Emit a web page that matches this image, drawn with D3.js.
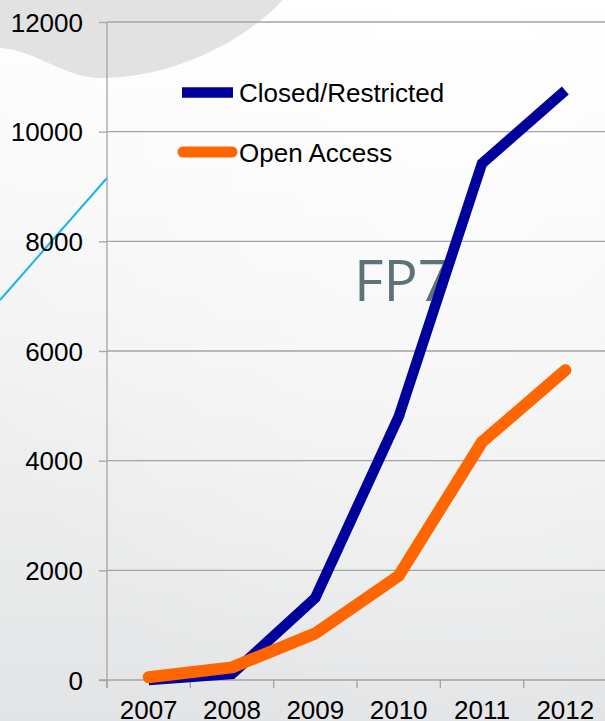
<!DOCTYPE html>
<html><head><meta charset="utf-8">
<script src="https://cdn.jsdelivr.net/npm/d3@7"></script>
<style>html,body{margin:0;padding:0;background:#fff;}svg{display:block;}</style>
</head><body>
<svg id="c" width="605" height="721"></svg>
<script>
const years = ["2007","2008","2009","2010","2011","2012"];
const closedRestricted = [0, 110, 1500, 4800, 9420, 10750];
const openAccess = [50, 230, 850, 1900, 4340, 5650];
const yTicks = [0, 2000, 4000, 6000, 8000, 10000, 12000];
const seriesNames = ["Closed/Restricted", "Open Access"];
const overlayText = "FP7";

const W = 605, H = 721;
const FONT = "'Liberation Sans', Arial, sans-serif";
const svg = d3.select("#c");
const defs = svg.append("defs");
const g1 = defs.append("linearGradient").attr("id","bg").attr("x1",0).attr("y1",0).attr("x2",0).attr("y2",1);
g1.append("stop").attr("offset","0%").attr("stop-color","#ffffff");
g1.append("stop").attr("offset","100%").attr("stop-color","#e3e4e5");
const g2 = defs.append("radialGradient").attr("id","bg2").attr("cx",0.75).attr("cy",0.15).attr("r",0.9);
g2.append("stop").attr("offset","0%").attr("stop-color","#ffffff").attr("stop-opacity",0.7);
g2.append("stop").attr("offset","100%").attr("stop-color","#ffffff").attr("stop-opacity",0);
svg.append("rect").attr("width",W).attr("height",H).attr("fill","url(#bg)");
svg.append("rect").attr("width",W).attr("height",H).attr("fill","url(#bg2)");
// decorative blob top-left
svg.append("path").attr("d","M0,0 L0,48 C35,50 65,78 100,78 C170,78 240,45 283,0 Z").attr("fill","#e2e2e2");
// decorative cyan line
svg.append("line").attr("x1",107).attr("y1",178).attr("x2",0).attr("y2",300)
  .attr("stroke","#1ab5e6").attr("stroke-width",2);

const x = d3.scaleBand().domain(years).range([107, 607]);
const y = d3.scaleLinear().domain([0, 12000]).range([680, 22]);
const gridColor = "#a3a3a3";

// gridlines
svg.append("g").selectAll("line").data(yTicks.filter(d=>d>0)).join("line")
  .attr("x1",107).attr("x2",W).attr("y1",d=>y(d)).attr("y2",d=>y(d))
  .attr("stroke",gridColor).attr("stroke-width",1.3);

// y axis
const ya = svg.append("g").attr("transform","translate(107,0)")
  .call(d3.axisLeft(y).tickValues(yTicks).tickSize(8).tickPadding(0).tickFormat(d3.format("d")));
ya.select(".domain").remove();
ya.selectAll(".tick line").attr("stroke",gridColor).attr("stroke-width",1.3);
ya.selectAll(".tick text").attr("x",-24).attr("dy","0.35em")
  .style("font-family",FONT).style("font-size","26px").attr("fill","#000");
svg.append("line").attr("x1",107).attr("x2",107).attr("y1",y(12000)).attr("y2",688)
  .attr("stroke",gridColor).attr("stroke-width",1.3);

// x axis
const xa = svg.append("g").attr("transform","translate(0,680)")
  .call(d3.axisBottom(x).tickSize(0).tickPadding(0));
xa.select(".domain").remove();
xa.selectAll(".tick text").attr("y",38.5).attr("dy",0)
  .style("font-family",FONT).style("font-size","26px").attr("fill","#000");
svg.append("line").attr("x1",99).attr("x2",W).attr("y1",680).attr("y2",680)
  .attr("stroke",gridColor).attr("stroke-width",1.3);
const edges = years.map(d=>x(d)).concat([x.range()[1]]);
svg.append("g").selectAll("line").data(edges).join("line")
  .attr("x1",d=>d).attr("x2",d=>d).attr("y1",680).attr("y2",688)
  .attr("stroke",gridColor).attr("stroke-width",1.3);

// FP7 overlay text
svg.append("text").attr("x",354).attr("y",301).text(overlayText)
  .style("font-family","'Open Sans', sans-serif").style("font-size","57px").attr("fill","#5e7377");

// lines
const cx = d => x(d) + x.bandwidth()/2;
const line = d3.line().x((d,i)=>cx(years[i])).y(d=>y(d));
svg.append("path").datum(closedRestricted).attr("d",line).attr("fill","none")
  .attr("stroke","#00009c").attr("stroke-width",10.5).attr("stroke-linejoin","miter").attr("stroke-linecap","butt");
svg.append("path").datum(openAccess).attr("d",line).attr("fill","none")
  .attr("stroke","#ff6600").attr("stroke-width",12).attr("stroke-linejoin","round").attr("stroke-linecap","round");

// legend
const leg = svg.append("g");
leg.append("line").attr("x1",182).attr("x2",233).attr("y1",92.5).attr("y2",92.5)
  .attr("stroke","#00009c").attr("stroke-width",10.5);
leg.append("line").attr("x1",183).attr("x2",232).attr("y1",152).attr("y2",152)
  .attr("stroke","#ff6600").attr("stroke-width",11).attr("stroke-linecap","round");
[[seriesNames[0],101.5],[seriesNames[1],161.5]].forEach(([t,yy])=>{
  leg.append("text").attr("x",239).attr("y",yy).text(t)
    .style("font-family",FONT).style("font-size","26px").attr("fill","#000");
});
</script>
</body></html>
